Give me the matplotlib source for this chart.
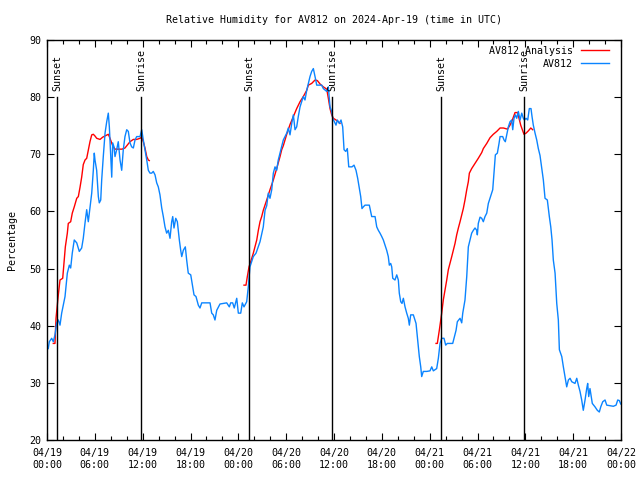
import numpy as np
import pandas as pd
import matplotlib
matplotlib.use("Agg")
import matplotlib.pyplot as plt
import matplotlib.dates as mdates

plt.rcParams["font.family"] = "DejaVu Sans Mono"
plt.rcParams["font.size"] = 7.2

start = pd.Timestamp("2024-04-19 00:00")

# observations: hours since start, relative humidity (%)
obs_hours = [0.16, 0.29, 0.59, 0.79, 1.00, 1.22, 1.42, 1.63, 1.84, 2.26, 2.55, 2.80, 2.97, 3.17,
             3.42, 3.73, 4.05, 4.35, 4.55, 4.77, 4.98, 5.18, 5.39, 5.61, 5.81, 5.93, 6.02, 6.23,
             6.44, 6.56, 6.74, 6.86, 7.06, 7.28, 7.49, 7.69, 7.82, 7.99, 8.12, 8.24, 8.40, 8.53,
             8.74, 8.94, 9.16, 9.37, 9.57, 9.78, 10.00, 10.20, 10.41, 10.62, 10.83, 11.04, 11.25,
             11.67, 11.88, 12.08, 12.29, 12.51, 12.71, 12.92, 13.13, 13.33, 13.55, 13.76, 13.96,
             14.17, 14.39, 14.59, 14.80, 15.01, 15.22, 15.43, 15.64, 15.77, 15.93, 16.15, 16.35,
             16.60, 16.77, 16.90, 17.10, 17.35, 17.52, 17.72, 18.03, 18.28, 18.44, 18.69, 18.98,
             19.19, 19.41, 20.45, 20.66, 20.86, 21.07, 21.29, 21.70, 22.54, 22.87, 23.04, 23.29,
             23.49, 23.80, 24.00, 24.30, 24.50, 24.71, 25.05, 25.25, 25.46, 25.88, 26.22, 26.72,
             27.13, 27.35, 27.56, 27.76, 27.97, 28.19, 28.39, 28.60, 28.81, 29.01, 29.23, 29.44,
             29.64, 30.07, 30.27, 30.48, 30.70, 30.90, 31.11, 31.32, 31.52, 31.74, 31.95, 32.15,
             32.36, 32.58, 32.78, 32.99, 33.20, 33.41, 33.53, 33.71, 33.83, 34.46, 34.66, 35.09,
             35.29, 35.50, 35.71, 35.84, 36.04, 36.25, 36.42, 36.67, 36.88, 37.09, 37.26, 37.47,
             37.67, 37.85, 38.26, 38.51, 38.76, 38.97, 39.18, 39.35, 39.51, 39.68, 39.89, 40.43,
             40.73, 41.15, 41.36, 41.56, 41.77, 41.99, 42.19, 42.40, 42.61, 42.81, 42.94, 43.11,
             43.24, 43.37, 43.65, 43.87, 44.07, 44.19, 44.37, 44.53, 44.70, 44.91, 45.12, 45.32,
             45.45, 45.62, 45.95, 46.29, 46.45, 46.58, 46.70, 46.88, 47.00, 47.20, 47.63, 48.04,
             48.26, 48.46, 48.88, 49.09, 49.30, 49.51, 49.80, 50.01, 50.21, 50.89, 51.31, 51.47,
             51.81, 52.02, 52.15, 52.43, 52.65, 52.85, 53.06, 53.27, 53.48, 53.69, 53.90, 53.98,
             54.10, 54.32, 54.53, 54.73, 54.94, 55.16, 55.36, 55.57, 55.78, 55.91, 56.07, 56.24,
             56.49, 56.70, 56.83, 57.16, 57.33, 57.49, 57.67, 57.87, 58.08, 58.29, 58.42, 58.58,
             58.75, 58.92, 59.12, 59.34, 59.55, 59.75, 59.88, 60.09, 60.30, 60.50, 60.71, 60.84,
             61.00, 61.22, 61.43, 61.63, 61.84, 62.06, 62.26, 62.47, 62.76, 63.01, 63.19, 63.35,
             63.51, 63.73, 63.94, 64.14, 64.27, 64.57, 64.77, 64.98, 65.19, 65.40, 65.61, 65.82,
             66.23, 66.45, 66.65, 66.86, 67.07, 67.27, 67.49, 67.70, 67.82, 67.95, 68.11, 68.40,
             68.74, 69.03, 69.28, 69.46, 69.71, 70.00, 70.21, 71.04, 71.38, 71.59, 71.79, 71.97]
obs_rh = [36.0, 37.2, 37.8, 37.2, 38.4, 40.5, 41.0, 40.1, 42.2, 45.1, 49.2, 50.6, 50.1, 52.7,
          55.0, 54.5, 53.0, 53.6, 55.3, 58.0, 60.3, 58.2, 60.6, 63.2, 67.2, 70.2, 69.0, 67.2,
          62.6, 61.5, 62.0, 65.5, 69.6, 73.7, 75.7, 77.2, 74.8, 69.6, 66.0, 72.0, 71.3, 69.6,
          70.8, 72.2, 69.0, 67.2, 70.8, 73.1, 74.3, 74.0, 72.0, 71.3, 71.1, 72.5, 73.1,
          73.1, 74.3, 72.5, 70.8, 69.0, 67.2, 66.7, 66.7, 67.0, 66.4, 65.0, 64.3,
          62.9, 60.6, 59.1, 57.3, 56.2, 56.7, 55.3, 58.2, 59.1, 57.1, 58.8, 58.2,
          55.0, 53.2, 52.1, 53.2, 53.8, 51.5, 49.2, 48.9, 46.8, 45.4, 45.1, 43.6,
          43.1, 44.0, 44.0, 42.2, 41.9, 41.0, 42.7, 43.8, 44.0, 43.3, 44.0, 44.0,
          43.1, 44.8, 42.2, 42.2, 44.0, 43.3, 44.2, 46.8, 50.3, 52.1, 52.7, 54.7,
          57.3, 60.2, 61.0, 63.2, 62.3, 63.8, 66.7, 67.8, 67.2, 69.0, 70.2, 71.3,
          72.5, 73.7, 74.6, 73.4, 75.4, 76.9, 74.3, 74.8, 76.6, 78.3, 79.2, 80.1,
          79.5, 81.2, 82.4, 83.6, 84.5, 85.0, 84.2, 83.0, 82.1, 82.1, 81.5, 81.0,
          81.8, 78.3, 77.5, 76.3, 75.7, 75.1, 76.0, 75.4, 76.0, 74.8, 70.8, 70.5,
          71.0, 67.8, 67.8, 68.1, 67.2, 65.8, 64.0, 62.6, 60.5, 60.8, 61.1, 61.1,
          59.1, 59.1, 57.3, 56.7, 56.2, 55.6, 55.0, 54.1, 53.2, 52.1, 50.6, 50.9,
          50.3, 48.3, 48.0, 48.9, 48.0, 45.7, 44.2, 43.9, 44.8, 43.3, 42.2, 41.3,
          40.1, 41.9, 41.9, 40.4, 38.1, 36.1, 34.6, 32.8, 31.1, 32.0, 32.0, 32.1,
          32.8, 32.1, 32.5, 34.3, 36.9, 37.8, 37.8, 36.6, 36.9, 36.9, 39.2, 40.7,
          41.3, 40.5, 42.2, 44.5, 48.6, 53.8, 55.0, 56.2, 56.7, 57.1, 56.7, 55.9,
          57.9, 59.0, 58.8, 58.2, 59.1, 59.7, 61.4, 62.3, 63.2, 63.8, 66.7, 69.9,
          70.2, 71.9, 73.1, 73.1, 72.5, 72.2, 73.4, 74.8, 75.7, 76.0, 74.3, 76.3,
          76.9, 76.3, 77.5, 76.0, 77.2, 76.3, 76.0, 76.3, 76.0, 78.0, 78.0, 76.6,
          75.1, 73.7, 72.5, 71.0, 69.8, 67.5, 65.5, 62.3, 62.0, 59.1, 57.3, 55.0,
          51.5, 49.2, 43.9, 41.0, 35.8, 34.6, 32.8, 31.1, 29.3, 30.5, 30.8, 30.2,
          29.9, 30.8, 29.6, 28.5, 27.0, 25.2, 27.0, 29.0, 29.9, 27.6, 29.0, 26.4,
          25.8, 25.2, 24.9, 25.8, 26.7, 27.0, 26.1, 25.9, 26.1, 27.0, 26.9, 26.3]

# analysis: three separate runs, NaN marks the gaps
ana_hours = [0.79, 1.00, 1.13, 1.29, 1.42, 1.63, 1.97, 2.13, 2.30, 2.55, 2.67, 2.97, 3.17, 3.42,
             3.73, 3.93, 4.14, 4.35, 4.55, 4.77, 4.98, 5.18, 5.39, 5.61, 5.81, 6.02, 6.23, 6.65,
             6.99, 7.28, 7.69, 7.90, 8.24, 8.53, 9.41, 9.78, 10.07, 10.41, 10.83, 11.25, 11.67,
             11.88, 12.08, 12.29, 12.51, 12.71, 12.83, 18.0,
             24.71, 24.96, 25.13, 25.34, 25.55, 25.88, 26.09, 26.31, 26.51, 26.72, 26.93, 27.13,
             27.56, 27.97, 28.39, 28.81, 29.23, 29.44, 29.64, 30.07, 30.48, 30.90, 31.32, 31.74,
             32.15, 32.58, 32.78, 33.20, 33.62, 33.91, 34.25, 34.66, 35.09, 35.29, 35.50, 35.71,
             35.92, 36.25, 36.54, 36.75, 42.0,
             48.80, 48.96, 49.09, 49.21, 49.39, 49.51, 49.71, 49.93, 50.14, 50.34, 50.55, 50.77,
             50.97, 51.18, 51.39, 51.60, 51.81, 52.02, 52.22, 52.43, 52.65, 52.85, 52.98, 53.27,
             53.69, 54.10, 54.53, 54.73, 55.16, 55.57, 55.98, 56.41, 56.83, 57.25, 57.76, 58.08,
             58.37, 58.71, 59.00, 59.21, 59.42, 59.62, 59.83, 60.09, 60.38, 60.68, 60.93]
ana_rh = [36.9, 36.9, 41.3, 43.6, 45.4, 48.0, 48.3, 50.9, 53.8, 56.2, 57.9, 58.2, 59.7, 60.8,
          62.3, 62.6, 64.2, 66.0, 68.2, 69.0, 69.3, 70.7, 72.2, 73.4, 73.5, 73.2, 72.8, 72.6,
          73.0, 73.2, 73.5, 72.8, 71.5, 70.9, 70.9, 71.1, 71.6, 72.2, 72.6, 72.6, 72.8,
          73.0, 72.2, 71.1, 69.6, 69.0, 68.9, np.nan,
          47.1, 47.1, 48.6, 50.3, 51.2, 52.7, 53.8, 55.0, 56.7, 58.2, 59.1, 60.2,
          62.0, 63.8, 65.5, 67.5, 69.6, 70.8, 71.5, 73.5, 75.2, 76.6, 78.0, 79.2,
          80.1, 81.2, 82.1, 82.4, 83.0, 82.9, 82.3, 81.8, 81.4, 79.8, 78.0, 76.9,
          76.3, 76.0, 75.7, 75.4, np.nan,
          36.9, 36.9, 38.1, 39.2, 41.0, 42.2, 44.5, 46.3, 48.0, 49.8, 50.9, 52.1,
          53.2, 54.4, 55.9, 57.1, 58.2, 59.4, 60.5, 62.0, 63.8, 65.2, 66.7, 67.5,
          68.4, 69.3, 70.3, 71.0, 71.9, 72.9, 73.5, 74.0, 74.6, 74.6, 74.4, 75.1,
          76.0, 77.3, 77.3, 76.3, 75.1, 74.3, 73.5, 73.7, 74.1, 74.6, 74.3]

# sun events, hours since start
event_hours = [1.29, 11.83, 25.38, 35.79, 49.46, 59.87]
event_names = ["Sunset", "Sunrise", "Sunset", "Sunrise", "Sunset", "Sunrise"]


def to_time(hours):
    return start + pd.to_timedelta(np.asarray(hours, dtype=float), unit="h")


fig = plt.figure(figsize=(6.4, 4.8), dpi=100)
ax = fig.add_axes([47 / 640, 40 / 480, 574 / 640, 400 / 480])

ax.plot(to_time(ana_hours), ana_rh, color="#ff0000", lw=1.0, label="AV812 Analysis")
ax.plot(to_time(obs_hours), obs_rh, color="#0a84ff", lw=1.0, label="AV812")

for h, name in zip(event_hours, event_names):
    t = to_time([h])[0]
    ax.plot([t, t], [20, 80], color="black", lw=1.0)
    ax.text(t, 81, name, rotation=90, ha="center", va="bottom")

ax.set_xlim(start, start + pd.Timedelta(hours=72))
ax.set_ylim(20, 90)
ax.set_yticks(range(20, 91, 10))
ax.xaxis.set_major_locator(mdates.HourLocator(byhour=range(0, 24, 6)))
ax.xaxis.set_minor_locator(mdates.HourLocator(byhour=range(0, 24, 2)))
ax.xaxis.set_major_formatter(mdates.DateFormatter("%m/%d\n%H:%M"))

ax.tick_params(which="both", direction="in", top=True, right=True, width=0.8)
ax.tick_params(which="major", length=5, pad=6)
ax.tick_params(which="minor", length=3)
ax.tick_params(axis="y", pad=4)
for s in ax.spines.values():
    s.set_linewidth(1.0)

ax.set_ylabel("Percentage", fontsize=7.2, labelpad=9)
ax.set_title("Relative Humidity for AV812 on 2024-Apr-19 (time in UTC)", fontsize=7.2, pad=12)

ax.legend(loc="upper right", bbox_to_anchor=(1 - 6 / 574, 1), frameon=False, markerfirst=False,
          handlelength=2.8, borderaxespad=0.2, labelspacing=0.3, handletextpad=0.8)

fig.savefig("out.png", dpi=100)
